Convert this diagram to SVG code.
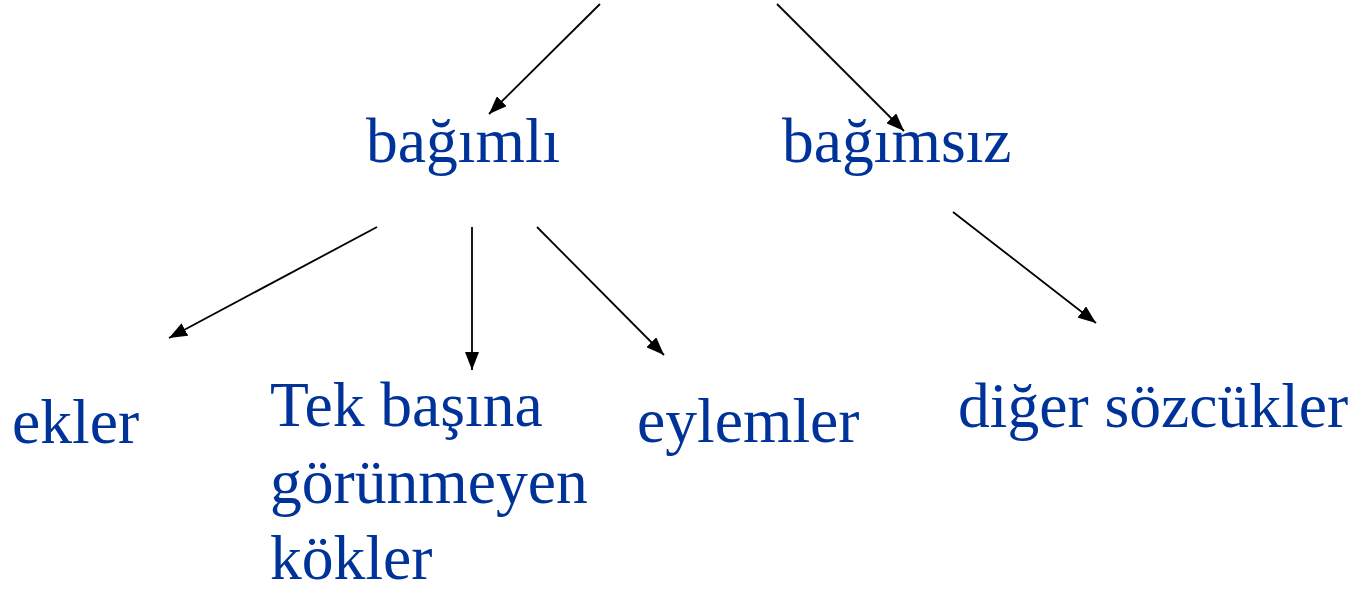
<svg xmlns="http://www.w3.org/2000/svg" width="1357" height="589" viewBox="0 0 1357 589">
<style>
.t{font-family:"Liberation Serif","Times New Roman",serif;font-size:63.6px;fill:#003399}
.c line{stroke:#000;stroke-width:1.8;marker-end:url(#ah)}
</style>
<defs>
<marker id="ah" viewBox="0 0 18 14" refX="18" refY="7" markerWidth="18" markerHeight="14" markerUnits="userSpaceOnUse" orient="auto">
<path d="M0,0 L18,7 L0,14 z" fill="#000"/>
</marker>
</defs>
<rect width="1357" height="589" fill="#fff"/>
<g id="connectors" class="c">
<line x1="600" y1="4" x2="489" y2="114"/>
<line x1="777" y1="4" x2="904" y2="131"/>
<line x1="377" y1="227" x2="169" y2="338"/>
<line x1="472" y1="227" x2="472" y2="370"/>
<line x1="537" y1="227" x2="664" y2="355"/>
<line x1="953" y1="212" x2="1096" y2="323"/>
</g>
<g id="bagimli"><text class="t" x="366" y="162">bağımlı</text></g>
<g id="bagimsiz"><text class="t" x="782" y="162">bağımsız</text></g>
<g id="ekler"><text class="t" x="12" y="443">ekler</text></g>
<g id="kokler"><text class="t" x="270" y="426">Tek başına<tspan x="270" y="503">görünmeyen</tspan><tspan x="270" y="579">kökler</tspan></text></g>
<g id="eylemler"><text class="t" x="637" y="442">eylemler</text></g>
<g id="diger"><text class="t" x="958" y="427">diğer sözcükler</text></g>
</svg>
